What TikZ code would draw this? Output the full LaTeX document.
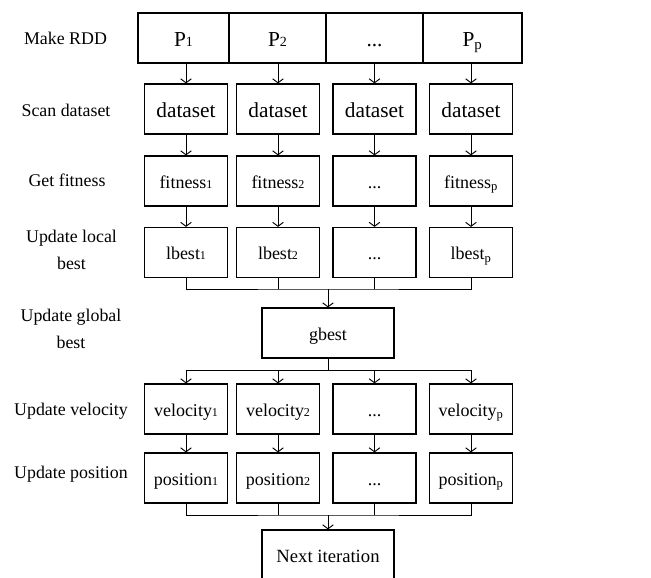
\documentclass[tikz,border=0pt]{standalone}
\usepackage{fontspec}
\setmainfont{Liberation Serif}
\usetikzlibrary{arrows.meta,positioning}

\newcommand\smalldigit[2]{{\fontsize{#1}{#1}\selectfont #2}}

\tikzset{
  rowlabel/.style={align=center,inner sep=0pt,font=\fontsize{13.4}{20}\selectfont},
  cellbox/.style={rectangle,draw,line width=0.9pt,minimum height=37.5pt,inner sep=0pt,text height=13pt,text depth=1pt,font=\fontsize{16}{19}\selectfont},
  colbox/.style={rectangle,draw,line width=0.9pt,minimum width=62.25pt,minimum height=37.5pt,inner sep=0pt,text height=11.5pt,text depth=1pt,font=\fontsize{13.5}{16}\selectfont},
  bigbox/.style={colbox,text height=13pt,text depth=1pt,font=\fontsize{16}{19}\selectfont},
  midbox/.style={colbox,minimum width=99pt},
  link/.style={line width=0.7pt},
}

\begin{document}
\begin{tikzpicture}[x=0.75pt,y=-0.75pt,>={Straight Barb[length=3pt,width=8pt]}]
\useasboundingbox (0,0) rectangle (651,578);

% Row labels
\node[rowlabel] (lrdd) at (65.5,38) {Make RDD};
\node[rowlabel] (lscan) at (66,110) {Scan dataset};
\node[rowlabel] (lfit) at (67,180) {Get fitness};
\node[rowlabel] (llocal) at (71.5,250) {Update local\\best};
\node[rowlabel] (lglobal) at (71,329) {Update global\\best};
\node[rowlabel] (lvel) at (71,411) {Update velocity};
\node[rowlabel] (lpos) at (71,474) {Update position};

% RDD partitions
\node[cellbox,minimum width=68.25pt] (p1) at (183.5,38) {P\smalldigit{10.5}{1}};
\node[cellbox,minimum width=72.75pt] (p2) at (277.5,38) {P\smalldigit{10.5}{2}};
\node[cellbox,minimum width=72.75pt] (p3) at (374.5,38) {...};
\node[cellbox,minimum width=74.25pt] (p4) at (472.5,38) {P\textsubscript{p}};

% Scan dataset
\node[bigbox] (d1) at (186,109) {dataset};
\node[bigbox] (d2) at (278,109) {dataset};
\node[bigbox] (d3) at (374.5,109) {dataset};
\node[bigbox] (d4) at (471,109) {dataset};

% Fitness
\node[colbox] (f1) at (186,181) {fitness\smalldigit{9}{1}};
\node[colbox] (f2) at (278,181) {fitness\smalldigit{9}{2}};
\node[colbox] (f3) at (374.5,181) {...};
\node[colbox] (f4) at (471,181) {fitness\textsubscript{p}};

% Local best
\node[colbox] (l1) at (186,252.5) {lbest\smalldigit{9}{1}};
\node[colbox] (l2) at (278,252.5) {lbest\smalldigit{9}{2}};
\node[colbox] (l3) at (374.5,252.5) {...};
\node[colbox] (l4) at (471,252.5) {lbest\textsubscript{p}};

% Global best
\node[midbox] (gbest) at (328,333) {gbest};

% Velocity
\node[colbox] (v1) at (186,409) {velocity\smalldigit{9}{1}};
\node[colbox] (v2) at (278,409) {velocity\smalldigit{9}{2}};
\node[colbox] (v3) at (374.5,409) {...};
\node[colbox] (v4) at (471,409) {velocity\textsubscript{p}};

% Position
\node[colbox] (q1) at (186,478) {position\smalldigit{9}{1}};
\node[colbox] (q2) at (278,478) {position\smalldigit{9}{2}};
\node[colbox] (q3) at (374.5,478) {...};
\node[colbox] (q4) at (471,478) {position\textsubscript{p}};

% Next iteration
\node[midbox,font=\fontsize{14}{17}\selectfont] (next) at (328,555) {Next iteration};

% column arrows
\foreach \i in {1,...,4} {
  \draw[link,->] (p\i.south -| d\i) -- (d\i);
  \draw[link,->] (d\i) -- (f\i);
  \draw[link,->] (f\i) -- (l\i);
  \draw[link,->] (v\i) -- (q\i);
}

% gather local bests
\coordinate (m1) at (328,289);
\draw[link] (l1.south) |- (m1) -| (l4.south);
\draw[link] (l2.south) -- (l2.south |- m1);
\draw[link] (l3.south) -- (l3.south |- m1);
\draw[link,->] (m1) -- (gbest);

% spread global best
\coordinate (s1) at (328,370);
\draw[link] (gbest) -- (s1);
\foreach \i in {1,...,4}
  \draw[link,->] (s1) -| (v\i);

% gather positions
\coordinate (m2) at (328,515);
\draw[link] (q1.south) |- (m2) -| (q4.south);
\draw[link] (q2.south) -- (q2.south |- m2);
\draw[link] (q3.south) -- (q3.south |- m2);
\draw[link,->] (m2) -- (next);
\end{tikzpicture}
\end{document}
